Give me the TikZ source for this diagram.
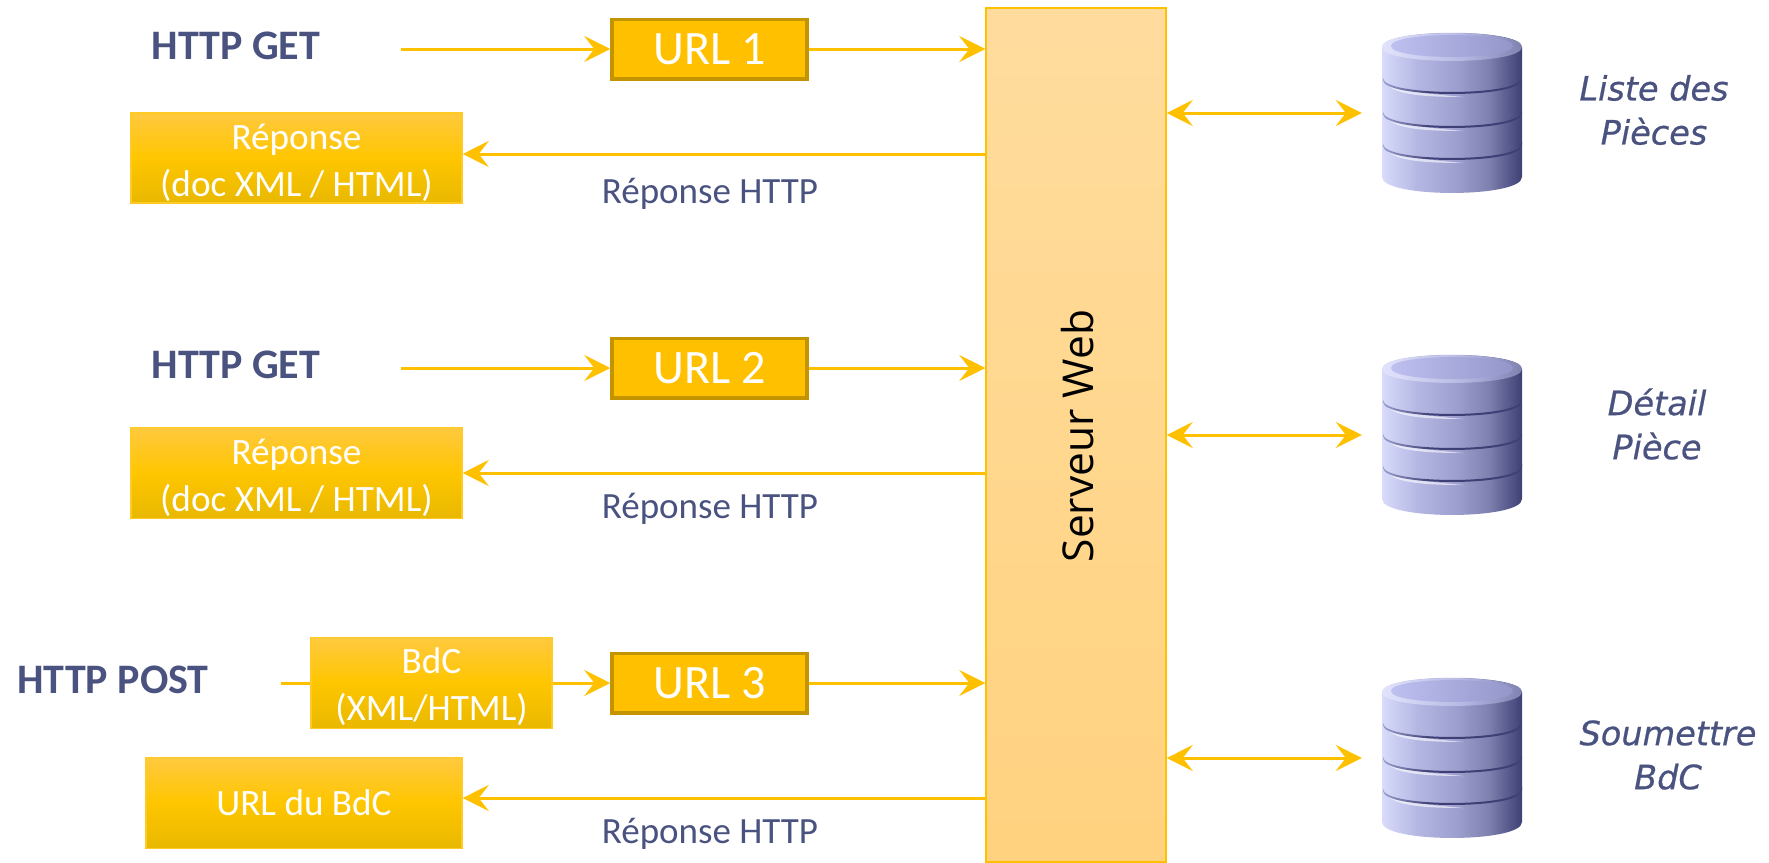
\documentclass[tikz,border=0pt]{standalone}
\usepackage{fontspec}
\setmainfont{Carlito}
\newfontfamily\srvfont{Open Sans}
\newfontfamily\dbfont[FakeBold=0.6]{DejaVu Sans}
\usetikzlibrary{arrows.meta}
\definecolor{inkblue}{HTML}{4A5280}
\definecolor{gold}{HTML}{FFC000}
\definecolor{golddark}{HTML}{C49400}
\definecolor{gA}{HTML}{E8B800}
\definecolor{gB}{HTML}{FFC600}
\definecolor{gC}{HTML}{FFC93F}
\definecolor{sA}{HTML}{FFD27F}
\definecolor{sB}{HTML}{FFDC9E}
\definecolor{dA}{HTML}{D8DBFA}
\definecolor{dB}{HTML}{B4B6E2}
\definecolor{dC}{HTML}{9C9ECE}
\definecolor{dD}{HTML}{7F81B0}
\definecolor{dE}{HTML}{3E3F74}
\definecolor{tA}{HTML}{BEC0F0}
\definecolor{tB}{HTML}{9496CA}
\definecolor{rA}{HTML}{E2E4FC}
\pgfdeclareverticalshading{boxgrad}{100bp}{color(0bp)=(gA);color(25bp)=(gA);color(50bp)=(gB);color(75bp)=(gC);color(100bp)=(gC)}
\pgfdeclareverticalshading{srvgrad}{100bp}{color(0bp)=(sA);color(25bp)=(sA);color(75bp)=(sB);color(100bp)=(sB)}
\pgfdeclarehorizontalshading{dbgrad}{100bp}{color(0bp)=(dA);color(25bp)=(dA);color(38bp)=(dB);color(52bp)=(dC);color(63bp)=(dD);color(75bp)=(dE);color(100bp)=(dE)}
\pgfdeclarehorizontalshading{dbtop}{100bp}{color(0bp)=(tA);color(25bp)=(tA);color(75bp)=(tB);color(100bp)=(tB)}
\pgfdeclarehorizontalshading{dbface}{100bp}{color(0bp)=(rA);color(25bp)=(rA);color(55bp)=(dB);color(75bp)=(dD);color(100bp)=(dD)}
\pgfdeclarehorizontalshading{dbline}{100bp}{color(0bp)=(dC);color(25bp)=(dC);color(42bp)=(dE);color(100bp)=(dE)}
\tikzset{
  flow/.style={draw=gold,line width=3pt,-{Stealth[length=26pt,width=26pt,inset=10pt]}},
  biflow/.style={draw=gold,line width=3pt,{Stealth[length=26pt,width=26pt,inset=10pt]}-{Stealth[length=26pt,width=26pt,inset=10pt]}},
  plainflow/.style={draw=gold,line width=3pt},
  urlbox/.style={draw=golddark,line width=3.5pt,fill=gold,text=white,font=\fontsize{48}{50}\selectfont,minimum width=195pt,minimum height=59.5pt,inner sep=0pt},
  gradbox/.style={draw=gold!85!white,line width=1.5pt,shading=boxgrad,text=white,font=\fontsize{37.2}{47}\selectfont,align=center,inner sep=0pt},
  headlabel/.style={text=inkblue,font=\fontsize{42}{46}\selectfont\bfseries,inner sep=0pt},
  replabel/.style={text=inkblue,font=\fontsize{37}{42}\selectfont,inner sep=0pt},
  dblabel/.style={text=inkblue,font=\dbfont\itshape\fontsize{33.5}{44}\selectfont,align=center,inner sep=0pt},
  dbanchor/.style={minimum width=140pt,minimum height=160pt,inner sep=0pt},
}
% one layer of the stack: #1 top-centre y of the side, #2 bottom-centre y, #3 sag
\newcommand{\dbdisc}[3]{%
  \path[shading=dbgrad] (-70,#1) .. controls (-70,#1-19) and (70,#1-19) .. (70,#1)
    -- (70,#2) .. controls (70,#2+#3*1.33) and (-70,#2+#3*1.33) .. (-70,#2) -- cycle;
}
\newcommand{\dbrim}[2]{%
  \path[shading=dbline] (-69,#1) .. controls (-69,#1+#2*1.33) and (69,#1+#2*1.33) .. (69,#1)
    -- (69,#1+2) .. controls (69,#1+2+#2*1.33) and (-69,#1+2+#2*1.33) .. (-69,#1+2) -- cycle;
}
\newcommand{\dbshine}[1]{%
  \path[fill=white,opacity=.6] (-68,#1+1) .. controls (-60,#1+11) and (-35,#1+14) .. (12,#1+18)
    .. controls (-35,#1+18) and (-62,#1+15) .. (-68,#1+1) -- cycle;
}
\newcommand{\dbstack}[1]{%
  \begin{scope}[shift={(#1)}]
    \dbdisc{29}{64}{16}
    \dbshine{32}
    \dbdisc{-1}{32}{14}
    \dbrim{31}{14}
    \dbshine{0}
    \dbdisc{-33}{0}{14}
    \dbrim{-1}{14}
    \dbshine{-34}
    \dbdisc{-66}{-34}{14}
    \dbrim{-35}{14}
    \path[shading=dbface] (-70,-66) .. controls (-70,-84.6) and (70,-84.6) .. (70,-66)
      .. controls (70,-47.4) and (-70,-47.4) .. (-70,-66) -- cycle;
    \path[shading=dbtop] (-61,-67) .. controls (-61,-81.6) and (61,-81.6) .. (61,-67)
      .. controls (61,-52.4) and (-61,-52.4) .. (-61,-67) -- cycle;
  \end{scope}}
\begin{document}
\begin{tikzpicture}[x=1pt,y=-1pt]
\useasboundingbox (0,0) rectangle (1769,862);
% databases
\node[dbanchor] (db1) at (1452,113) {};
\node[dbanchor] (db2) at (1452,435) {};
\node[dbanchor] (db3) at (1452,758) {};
\dbstack{1452,113}
\dbstack{1452,435}
\dbstack{1452,758}
% server
\node[draw=gold,line width=1.5pt,shading=srvgrad,minimum width=180pt,minimum height=854pt,inner sep=0pt] (srv) at (1076,435) {};
\node[rotate=90,font=\srvfont\fontsize{42.5}{46}\selectfont,text=black,inner sep=0pt] (srvtext) at (1078,436) {Serveur Web};
% boxes
\node[urlbox] (url1) at (709.5,49) {URL 1};
\node[urlbox] (url2) at (709.5,368) {URL 2};
\node[urlbox] (url3) at (709.5,683) {URL 3};
\node[gradbox,minimum width=331pt,minimum height=90pt] (r1) at (296.5,158) {\rule{0pt}{36pt}Réponse\\(doc XML / HTML)};
\node[gradbox,minimum width=331pt,minimum height=91pt] (r2) at (296.5,473) {\rule{0pt}{36pt}Réponse\\(doc XML / HTML)};
\node[gradbox,minimum width=241pt,minimum height=91pt] (bdc) at (431.5,683) {\rule{0pt}{33pt}BdC\\(XML/HTML)};
\node[gradbox,minimum width=316pt,minimum height=91pt] (r3) at (304,803) {URL du BdC};
% labels
\node[headlabel] (g1) at (236,46) {HTTP GET};
\node[headlabel] (g2) at (236,365) {HTTP GET};
\node[headlabel] (p3) at (113,680) {HTTP POST};
\node[replabel] (h1) at (710,194) {Réponse HTTP};
\node[replabel] (h2) at (710,509) {Réponse HTTP};
\node[replabel] (h3) at (710,834) {Réponse HTTP};
\node[dblabel] (l1) at (1654,110) {Liste des\\Pièces};
\node[dblabel] (l2) at (1657,424) {Détail\\Pièce};
\node[dblabel] (l3) at (1668,755) {Soumettre\\BdC};
% free ends
\coordinate (a1) at (401,49);
\coordinate (a2) at (401,368);
\coordinate (a3) at (281,683);
\coordinate (s1) at (986,154);
\coordinate (s2) at (986,473);
\coordinate (s3) at (986,798);
% connectors
\draw[flow] (a1) -- (url1.west);
\draw[flow] (a2) -- (url2.west);
\draw[plainflow] (a3) -- (bdc.west);
\draw[flow] (bdc.east) -- (url3.west);
\draw[flow] (url1.east) -- (srv.west |- url1.east);
\draw[flow] (url2.east) -- (srv.west |- url2.east);
\draw[flow] (url3.east) -- (srv.west |- url3.east);
\draw[flow] (s1) -- (r1.east |- s1);
\draw[flow] (s2) -- (r2.east |- s2);
\draw[flow] (s3) -- (r3.east |- s3);
\draw[biflow] (srv.east |- db1.west) -- ([xshift=-20pt]db1.west);
\draw[biflow] (srv.east |- db2.west) -- ([xshift=-20pt]db2.west);
\draw[biflow] (srv.east |- db3.west) -- ([xshift=-20pt]db3.west);
\end{tikzpicture}
\end{document}
